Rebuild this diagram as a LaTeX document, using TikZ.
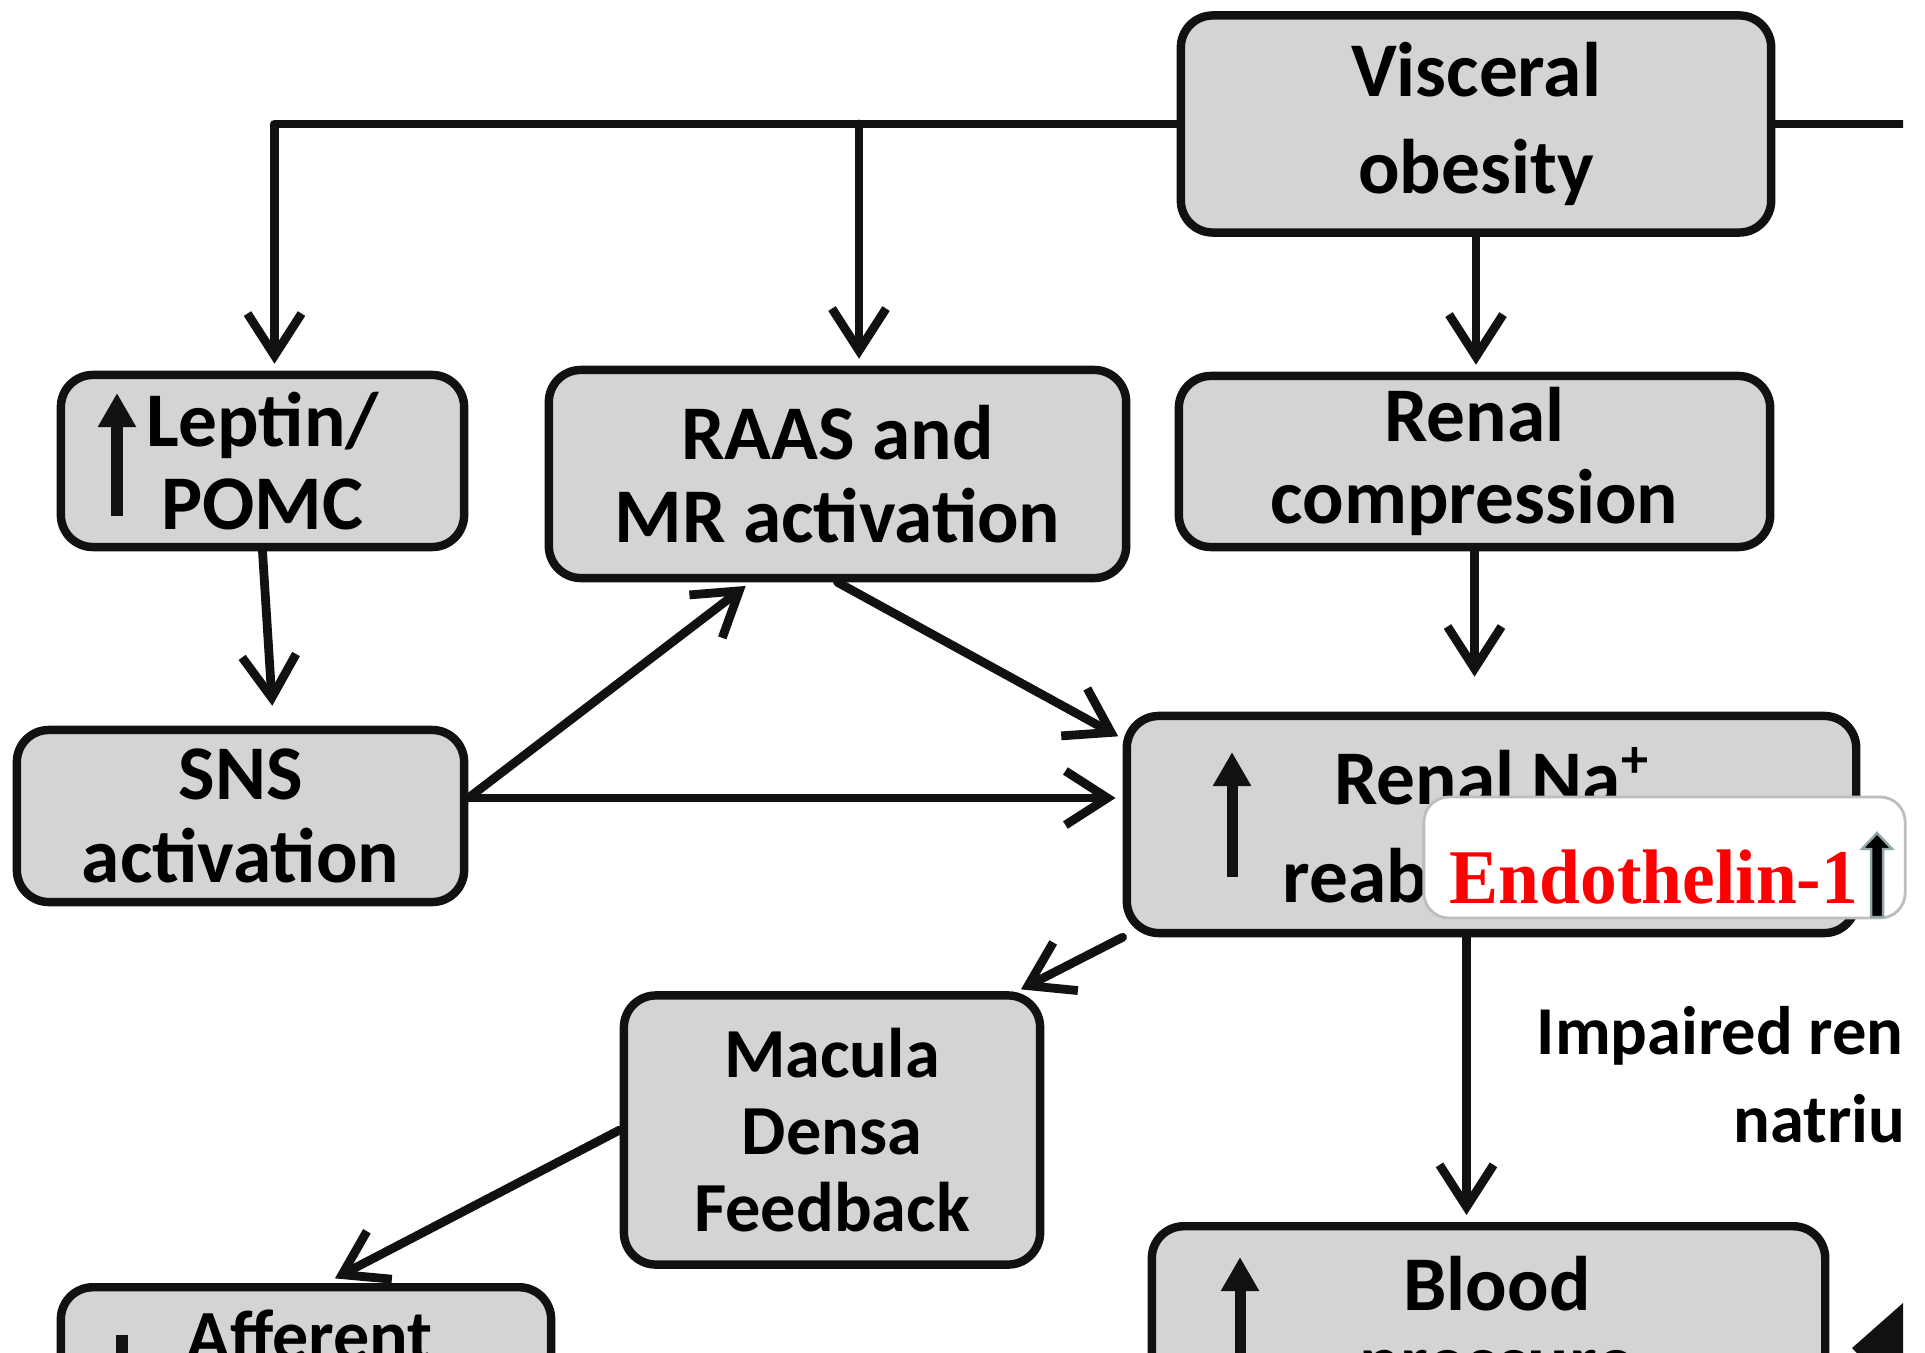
\documentclass[tikz,border=0pt]{standalone}
\usepackage{fontspec}
\setmainfont{Carlito}
\newfontfamily\tagfont{Liberation Serif}
\usetikzlibrary{arrows.meta,positioning,calc}
\definecolor{Ink}{HTML}{111111}
\definecolor{Panel}{HTML}{D4D4D4}
\definecolor{TagRed}{HTML}{FF0000}
\definecolor{TagRim}{HTML}{BDBDBD}
\definecolor{Halo}{HTML}{8FA5A8}

\begin{document}
\begin{tikzpicture}[x=0.01cm,y=-0.01cm,
  box/.style={draw=Ink,line width=2.4pt,fill=Panel,rounded corners=0.32cm,inner sep=0pt,align=center,font=\bfseries\fontsize{22}{23.5}\selectfont},
  word/.style={inner sep=0pt,font=\bfseries\fontsize{22}{23.5}\selectfont},
  wire/.style={draw=Ink,line width=2.5pt,line cap=round,line join=round},
  link/.style={wire,-{Straight Barb[length=0.42cm,width=0.54cm]}},
  rise/.style={draw=Ink,line width=0.11cm,-{Triangle[length=0.34cm,width=0.36cm]}}]
\useasboundingbox (0,0) rectangle (1925,1352);
\begin{scope}
\clip (0,0) rectangle (1903,1352);
\node[box,minimum width=5.90cm,minimum height=2.17cm,font=\bfseries\fontsize{22}{27.5}\selectfont] (vis) at (1476,124) {Visceral\\obesity};
\node[box,minimum width=4.03cm,minimum height=1.72cm] (lep) at (262.5,461) {Leptin/\\POMC};
\node[box,minimum width=5.77cm,minimum height=2.08cm] (raas) at (837.5,474) {RAAS and\\MR activation};
\node[box,minimum width=5.91cm,minimum height=1.71cm] (rc) at (1474.5,461.5) {Renal\\compression};
\node[box,minimum width=4.47cm,minimum height=1.72cm] (sns) at (240.5,816) {SNS\\activation};
\node[box,minimum width=7.29cm,minimum height=2.17cm] (rna) at (1491.5,824.5) {};
\node[box,minimum width=4.16cm,minimum height=2.69cm,font=\bfseries\fontsize{20}{22}\selectfont] (mac) at (832,1130) {Macula\\Densa\\Feedback};
\node[box,minimum width=4.90cm,minimum height=2.40cm,anchor=north] (aff) at (306,1283) {};
\node[box,minimum width=6.73cm,minimum height=2.40cm,anchor=north] (bp) at (1488.5,1222) {};
\node[word,anchor=base] (rnatop) at (1492,804) {Renal Na\textsuperscript{+}};
\node[word,anchor=base west] (rnalow) at (1282,902) {reab};
\node[word,anchor=base west,font=\bfseries\fontsize{20.5}{22}\selectfont] (afftxt) at (186,1360) {Afferent};
\node[word,anchor=base] (bptop) at (1497,1310) {Blood};
\node[word,anchor=base] (bplow) at (1497,1388) {pressure};
\node[word,anchor=base west,font=\bfseries\fontsize{19.5}{22}\selectfont] (imp) at (1536,1054) {Impaired ren};
\node[word,anchor=base west,font=\bfseries\fontsize{19.5}{22}\selectfont] (nat) at (1733,1142) {natriu};
\foreach \x/\a/\b in {117/516/393,1232/877/752,1240/1420/1257} {\draw[rise] (\x,\a) -- (\x,\b);}
\draw[rise] (122,1335) -- (122,1460);
\coordinate (rim) at (1903,122);
\coordinate (snsout) at ([yshift=0.18cm]sns.east);
\draw[wire] (vis.east) -- (vis.east -| rim);
\draw[link,shorten >=0.07cm] (vis.west) -| ([xshift=0.12cm]lep.north);
\draw[link,shorten >=0.07cm] ([xshift=0.215cm]raas.north |- vis.west) -- ([xshift=0.215cm]raas.north);
\draw[link,shorten >=0.07cm] (vis.south) -- (vis.south |- rc.north);
\draw[link,shorten >=0.35cm] (rc.south) -- (rc.south |- rna.north);
\draw[link,shorten >=0.2cm] (lep.south) -- ([xshift=0.33cm]sns.north);
\draw[link,shorten >=0.06cm] (snsout) -- ([xshift=-0.87cm]raas.south);
\draw[link,shorten >=0.07cm] (snsout) -- (snsout -| rna.west);
\draw[link,shorten >=0.05cm] (raas.south) -- ([yshift=-0.27cm]rna.north west);
\draw[link,shorten >=0.04cm] (rna.south west) -- ([xshift=-0.27cm]mac.north east);
\draw[link,shorten >=0.1cm] (mac.west) -- ([xshift=0.2cm]aff.north);
\draw[link,shorten >=0.07cm] ([xshift=-0.25cm]rna.south) -- ([xshift=-0.25cm]rna.south |- bp.north);
\fill[Ink] (1852,1348) -- (1903,1303) -- (1903,1400) -- cycle;
\end{scope}
\node[draw=TagRim,fill=white,line width=0.8pt,rounded corners=0.25cm,minimum width=4.81cm,minimum height=1.21cm,inner sep=0pt] (tag) at (1664.5,857.5) {};
\node[anchor=base west,inner sep=0pt,text=TagRed,font=\tagfont\bfseries\fontsize{22}{22}\selectfont] (tagtxt) at (1449,903) {\scalebox{0.95}[1]{Endothelin-1}};
\filldraw[fill=black,draw=Halo,line width=0.7pt] (1871,917) -- (1871,849) -- (1862,849) -- (1877,833) -- (1892,849) -- (1883,849) -- (1883,917) -- cycle;
\end{tikzpicture}
\end{document}
